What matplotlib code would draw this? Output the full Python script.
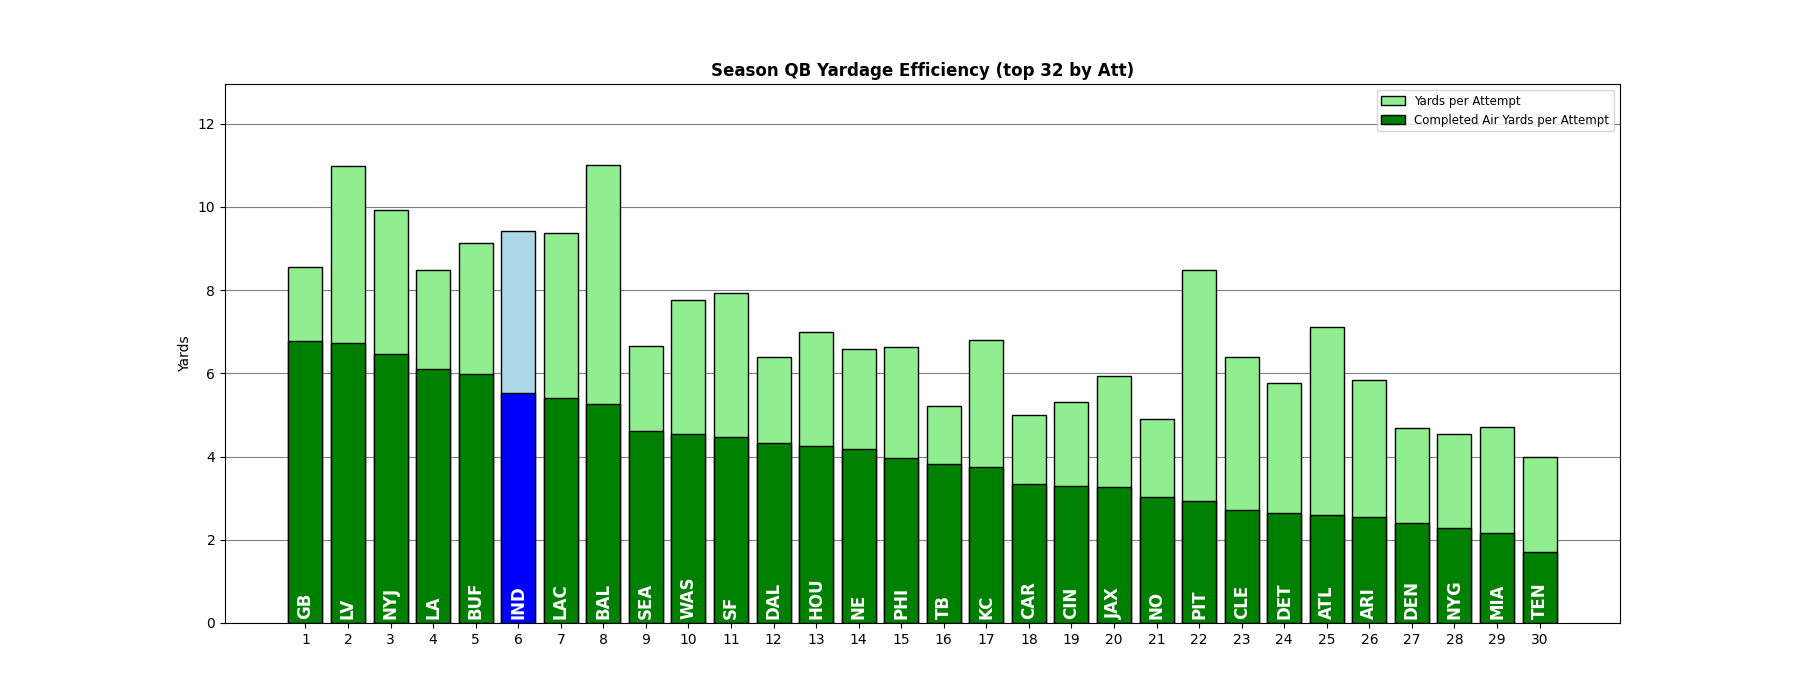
import matplotlib
matplotlib.use("Agg")
import matplotlib.pyplot as plt
import numpy as np

teams = ["GB", "LV", "NYJ", "LA", "BUF", "IND", "LAC", "BAL", "SEA", "WAS",
         "SF", "DAL", "HOU", "NE", "PHI", "TB", "KC", "CAR", "CIN", "JAX",
         "NO", "PIT", "CLE", "DET", "ATL", "ARI", "DEN", "NYG", "MIA", "TEN"]
yards_per_att = [8.55, 10.98, 9.93, 8.47, 9.13, 9.41, 9.38, 11.01, 6.66, 7.75,
                 7.92, 6.40, 6.98, 6.59, 6.62, 5.21, 6.79, 4.99, 5.32, 5.93,
                 4.91, 8.47, 6.40, 5.77, 7.12, 5.85, 4.69, 4.55, 4.72, 4.00]
cay_per_att = [6.78, 6.73, 6.46, 6.11, 5.99, 5.52, 5.41, 5.27, 4.61, 4.55,
               4.47, 4.33, 4.25, 4.17, 3.97, 3.81, 3.75, 3.34, 3.28, 3.26,
               3.03, 2.92, 2.71, 2.65, 2.59, 2.54, 2.40, 2.29, 2.16, 1.71]
highlight = "IND"

x = np.arange(1, len(teams) + 1)
light = ["lightblue" if t == highlight else "lightgreen" for t in teams]
dark = ["blue" if t == highlight else "green" for t in teams]

fig, ax = plt.subplots(figsize=(18, 7), dpi=100)
ax.set_axisbelow(True)
ax.yaxis.grid(True, color="gray")

ax.bar(x, yards_per_att, color=light, edgecolor="black", label="Yards per Attempt")
ax.bar(x, cay_per_att, color=dark, edgecolor="black", label="Completed Air Yards per Attempt")

for xi, t in zip(x, teams):
    ax.text(xi, 0.1, t, rotation=90, ha="center", va="bottom",
            color="white", fontweight="bold", fontsize=12)

ax.set_xticks(x)
ax.set_ylim(0, 12.95)
ax.set_ylabel("Yards")
ax.set_title("Season QB Yardage Efficiency (top 32 by Att)", fontweight="bold", fontsize=12)
ax.legend(loc="upper right", fontsize=8.5)

fig.savefig("out.png")
